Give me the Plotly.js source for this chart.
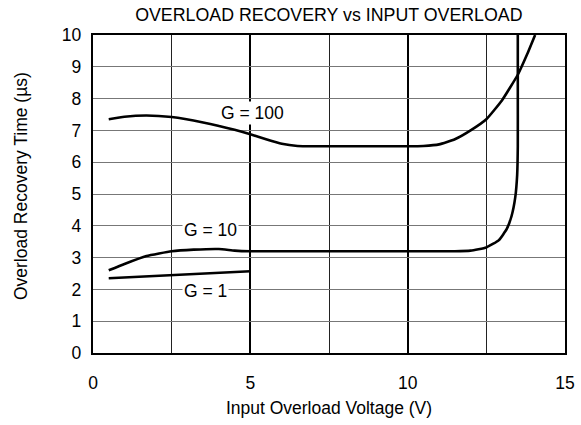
<!DOCTYPE html>
<html>
<head>
<meta charset="utf-8">
<script src="https://cdn.plot.ly/plotly-3.0.1.min.js"></script>
<style>html,body{margin:0;padding:0;background:#fff}#chart{width:581px;height:425px}</style>
</head>
<body>
<div id="chart"></div>
<script>
const g100X = [0.5, 1, 1.7, 2.5, 3.5, 4.5, 5, 5.5, 6, 6.5, 7, 8, 9, 10, 10.5, 11, 11.5, 12, 12.5, 13, 13.5, 13.8, 14.05];
const g100Y = [7.35, 7.43, 7.47, 7.42, 7.25, 7.02, 6.88, 6.72, 6.58, 6.51, 6.5, 6.5, 6.5, 6.5, 6.51, 6.56, 6.72, 7.0, 7.35, 7.95, 8.75, 9.4, 10];
const g10X = [0.5, 1, 1.7, 2.5, 3.2, 4, 4.5, 5, 6, 8, 10, 11.5, 12, 12.5, 12.9, 13.15, 13.3, 13.42, 13.48, 13.5, 13.5, 13.5];
const g10Y = [2.6, 2.8, 3.05, 3.2, 3.25, 3.27, 3.22, 3.2, 3.2, 3.2, 3.2, 3.2, 3.22, 3.32, 3.55, 3.9, 4.3, 4.9, 5.6, 6.5, 8.5, 10];
const g1X = [0.5, 5];
const g1Y = [2.35, 2.57];
const labels = ["G = 100", "G = 10", "G = 1"];
const labelX = [5.08, 3.72, 3.56];
const labelY = [7.56, 3.87, 1.95];
const yTitle = "Overload Recovery Time (µs)";

const line = {color: "#000", width: 2.6, shape: "spline", smoothing: 0.4};
const traces = [
  {x: g100X, y: g100Y, mode: "lines", line: line, hoverinfo: "none"},
  {x: g10X, y: g10Y, mode: "lines", line: line, hoverinfo: "none"},
  {x: g1X, y: g1Y, mode: "lines", line: line, hoverinfo: "none"}
];
const font = {family: "Liberation Sans, Arial, sans-serif", color: "#000"};
const fs = 17.5;
const annots = labels.map((t, i) => ({
  x: labelX[i], y: labelY[i], text: t, showarrow: false,
  font: Object.assign({size: fs}, font), bgcolor: "#fff", borderpad: 1
}));
annots.push({
  xref: "paper", yref: "paper", x: -0.1525, y: 0.525, text: yTitle, textangle: -90,
  showarrow: false, xanchor: "center", yanchor: "middle", font: Object.assign({size: fs}, font)
});
const layout = {
  width: 581, height: 425,
  margin: {l: 93, r: 16, t: 35, b: 72},
  paper_bgcolor: "#fff", plot_bgcolor: "#fff",
  showlegend: false,
  font: Object.assign({size: fs}, font),
  title: {text: "OVERLOAD RECOVERY vs INPUT OVERLOAD", font: Object.assign({size: 17.8}, font), x: 0.566, xanchor: "center", y: 0.966, yanchor: "middle"},
  xaxis: {
    range: [0, 15], dtick: 5, tick0: 0,
    showgrid: true, gridcolor: "#000", gridwidth: 1.8,
    minor: {dtick: 2.5, showgrid: true, gridcolor: "#222", gridwidth: 1},
    showline: true, linecolor: "#000", linewidth: 2.2, mirror: true,
    zeroline: false, ticks: "outside", ticklen: 13, tickcolor: "rgba(0,0,0,0)",
    tickfont: Object.assign({size: fs}, font),
    title: {text: "Input Overload Voltage (V)", font: Object.assign({size: fs}, font), standoff: 10}
  },
  yaxis: {
    range: [0, 10], dtick: 1, tick0: 0,
    showgrid: true, gridcolor: "#777", gridwidth: 1,
    showline: true, linecolor: "#000", linewidth: 2.2, mirror: true,
    zeroline: false, ticks: "outside", ticklen: 6, tickcolor: "rgba(0,0,0,0)",
    tickfont: Object.assign({size: fs}, font)
  },
  annotations: annots
};
Plotly.newPlot("chart", traces, layout, {staticPlot: true, displayModeBar: false});
</script>
</body>
</html>
